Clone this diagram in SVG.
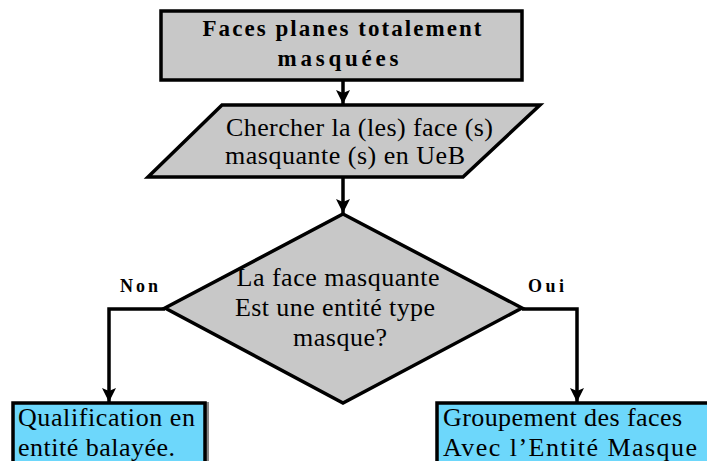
<svg xmlns="http://www.w3.org/2000/svg" width="707" height="461" viewBox="0 0 707 461">
<defs>
<style>
.gray{fill:#c8c8c8;stroke:#000;stroke-width:3.5}
.blue{fill:#6dd7fb;stroke:#000;stroke-width:3.5}
.c{fill:none;stroke:#000;stroke-width:3.5}
</style>
<marker id="ah" markerUnits="userSpaceOnUse" markerWidth="16" markerHeight="16" refX="15" refY="8" orient="auto" viewBox="0 0 16 16">
<path d="M1,1 L15,8 L1,15 L4,8 Z" fill="#000"/>
</marker>
</defs>
<rect width="707" height="461" fill="#fff"/>
<g font-family="Liberation Serif, DejaVu Serif, Times New Roman, serif" fill="#000">
<g id="n1">
<rect class="gray" x="161" y="11" width="361" height="69"/>
<text font-weight="bold" font-size="23" x="342" y="36" text-anchor="middle" textLength="279" lengthAdjust="spacing">Faces planes totalement</text>
<text font-weight="bold" font-size="23" x="338" y="66" text-anchor="middle" textLength="121" lengthAdjust="spacing">masquées</text>
</g>
<g id="n2" font-size="26">
<polygon class="gray" points="222,105 540,105 463,177 148,177" stroke-width="3"/>
<text x="226" y="136" textLength="267" lengthAdjust="spacing">Chercher la (les) face (s)</text>
<text x="225" y="164" textLength="240" lengthAdjust="spacing">masquante (s) en UeB</text>
</g>
<g id="n3" font-size="26">
<polygon class="gray" points="343,214 522,308 343,403 165,308" stroke-width="3"/>
<text x="338" y="286" text-anchor="middle" textLength="203" lengthAdjust="spacing">La face masquante</text>
<text x="335" y="316" text-anchor="middle" textLength="200" lengthAdjust="spacing">Est une entité type</text>
<text x="340" y="346" text-anchor="middle" textLength="94" lengthAdjust="spacing">masque?</text>
</g>
<g id="n4" font-size="26">
<rect x="206" y="402" width="3" height="62" fill="#888"/>
<rect class="blue" x="13" y="403" width="192" height="62"/>
<text x="18" y="426" textLength="177" lengthAdjust="spacing">Qualification en</text>
<text x="18" y="456" textLength="157" lengthAdjust="spacing">entité balayée.</text>
</g>
<g id="n5" font-size="26">
<rect class="blue" x="437" y="403" width="280" height="62"/>
<text x="443" y="426" textLength="239" lengthAdjust="spacing">Groupement des faces</text>
<text x="443" y="456" textLength="254" lengthAdjust="spacing">Avec l’Entité Masque</text>
</g>
<g id="connectors">
<line class="c" x1="343" y1="80" x2="343" y2="104" marker-end="url(#ah)"/>
<line class="c" x1="343" y1="177" x2="343" y2="213" marker-end="url(#ah)"/>
<polyline class="c" points="165,309 109,309 109,402" marker-end="url(#ah)"/>
<polyline class="c" points="522,309 577,309 577,402" marker-end="url(#ah)"/>
<text font-weight="bold" font-size="18" x="120" y="292" textLength="38" lengthAdjust="spacing">Non</text>
<text font-weight="bold" font-size="18" x="528" y="292" textLength="36" lengthAdjust="spacing">Oui</text>
</g>
</g>
</svg>
